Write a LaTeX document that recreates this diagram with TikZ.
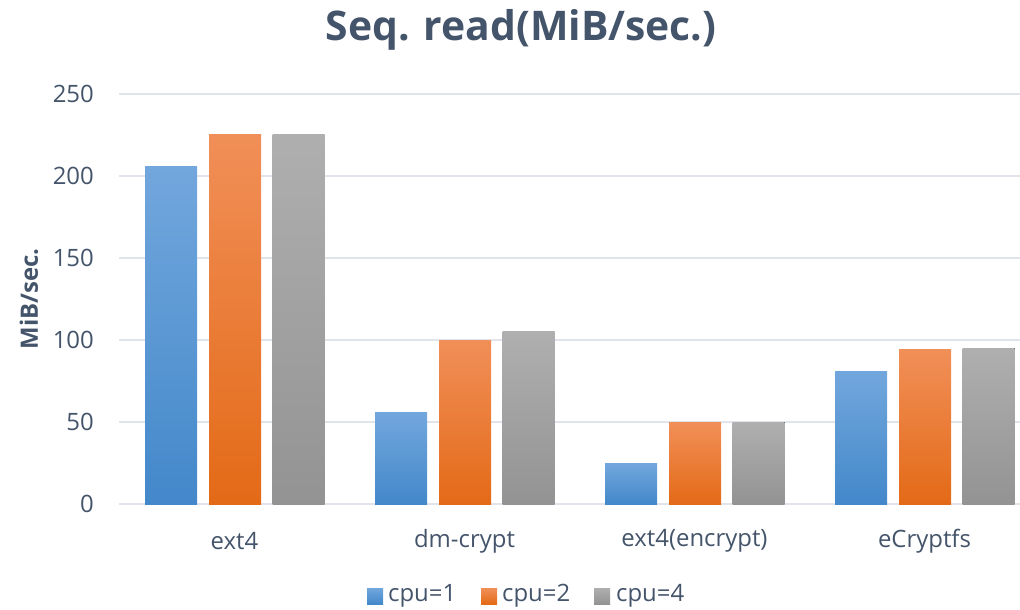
\documentclass[tikz,border=0pt]{standalone}
\usepackage{fontspec}
\setmainfont{Open Sans}
\definecolor{txt}{HTML}{44546A}
\definecolor{grid}{HTML}{E1E5EB}
\definecolor{bluetop}{HTML}{72A7DD}
\definecolor{bluemid}{HTML}{5B9BD5}
\definecolor{bluebot}{HTML}{4388CA}
\definecolor{orgtop}{HTML}{F18F58}
\definecolor{orgmid}{HTML}{F47F2E}
\definecolor{orgbot}{HTML}{E36A17}
\definecolor{grytop}{HTML}{AFAFAF}
\definecolor{grymid}{HTML}{A5A5A5}
\definecolor{grybot}{HTML}{939393}
\tikzset{
  gridline/.style={draw=grid, line width=2bp},
  bluebar/.style={top color=bluetop, middle color=bluemid, bottom color=bluebot},
  orangebar/.style={top color=orgtop, middle color=orgmid, bottom color=orgbot},
  graybar/.style={top color=grytop, middle color=grymid, bottom color=grybot},
  ticklabel/.style={anchor=east, text=txt, inner sep=0pt, font=\fontsize{24}{28}\selectfont},
  catlabel/.style={anchor=center, text=txt, inner sep=0pt, font=\fontsize{24}{28}\selectfont},
  legendtext/.style={anchor=west, text=txt, inner sep=0pt, font=\fontsize{24}{28}\selectfont},
}
\begin{document}
\begin{tikzpicture}[x=1bp, y=-1bp]
\useasboundingbox (0,0) rectangle (1020,610);
% value -> vertical position: 504 - 1.64 v
\def\vy#1{504-1.64*#1}
% title and axis label
\node[text=txt, inner sep=0pt, font=\fontsize{41}{46}\selectfont\bfseries] (title) at (521,30) {Seq. read(MiB/sec.)};
\node[text=txt, inner sep=0pt, rotate=90, font=\fontsize{24}{28}\selectfont\bfseries] (ylabel) at (29,299) {MiB/sec.};
% gridlines and tick labels
\foreach \v in {0,50,...,250}{
  \draw[gridline] (119,{\vy{\v}}) -- (1020,{\vy{\v}});
  \node[ticklabel] (tick\v) at (94,{\vy{\v}}) {\v};
}
% bars: group index / cpu=1 / cpu=2 / cpu=4 / category
\foreach \k/\a/\b/\c/\name/\lab in {
    0/205.5/225/225/ca/ext4,
    1/56/100/105/cb/dm-crypt,
    2/25/49.5/50/cc/ext4(encrypt),
    3/81/94/95/cd/eCryptfs}{
  \pgfmathsetmacro{\xo}{145+230*\k}
  \fill[bluebar] (\xo,{\vy{\a}}) rectangle ({\xo+52},504);
  \fill[orangebar] ({\xo+64},{\vy{\b}}) rectangle ({\xo+116},504);
  \fill[graybar] ({\xo+127.5},{\vy{\c}}) rectangle ({\xo+179.5},504);
  \node[catlabel] (\name) at ({\xo+89.5},541) {\lab};
}
% legend
\fill[bluebar] (367,588) rectangle (383,604);
\node[legendtext] (leg1) at (388,596) {cpu=1};
\fill[orangebar] (481,588) rectangle (497,604);
\node[legendtext] (leg2) at (502,596) {cpu=2};
\fill[graybar] (594,588) rectangle (610,604);
\node[legendtext] (leg4) at (616,596) {cpu=4};
\end{tikzpicture}
\end{document}
